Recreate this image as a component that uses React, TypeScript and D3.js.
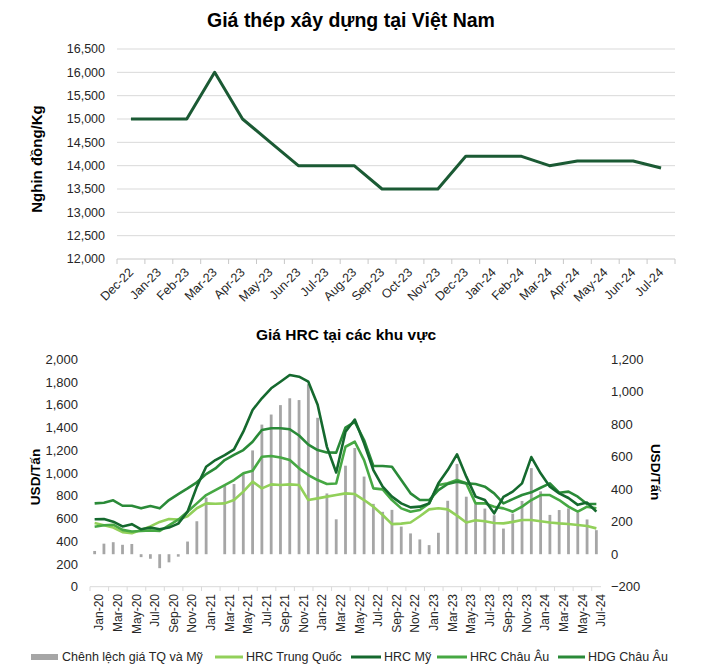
import React from 'react';
import * as d3 from 'd3';

// ---------- Top chart data ----------
const vnMonths = ['Dec-22','Jan-23','Feb-23','Mar-23','Apr-23','May-23','Jun-23','Jul-23','Aug-23','Sep-23','Oct-23','Nov-23','Dec-23','Jan-24','Feb-24','Mar-24','Apr-24','May-24','Jun-24','Jul-24'];
const vnPrice = [15000,15000,15000,16000,15000,14500,14000,14000,14000,13500,13500,13500,14200,14200,14200,14000,14100,14100,14100,13950];
const vnTicks = [12000,12500,13000,13500,14000,14500,15000,15500,16000,16500];

// ---------- Bottom chart data ----------
const hrcMonths = [
  'Jan-20','Feb-20','Mar-20','Apr-20','May-20','Jun-20','Jul-20','Aug-20','Sep-20','Oct-20','Nov-20','Dec-20',
  'Jan-21','Feb-21','Mar-21','Apr-21','May-21','Jun-21','Jul-21','Aug-21','Sep-21','Oct-21','Nov-21','Dec-21',
  'Jan-22','Feb-22','Mar-22','Apr-22','May-22','Jun-22','Jul-22','Aug-22','Sep-22','Oct-22','Nov-22','Dec-22',
  'Jan-23','Feb-23','Mar-23','Apr-23','May-23','Jun-23','Jul-23','Aug-23','Sep-23','Oct-23','Nov-23','Dec-23',
  'Jan-24','Feb-24','Mar-24','Apr-24','May-24','Jun-24','Jul-24'
];
const spreadCNUS: (number | null)[] = [20,65,74,58,63,-18,-28,-86,-50,-15,78,203,349,null,425,432,494,639,798,860,918,960,949,1047,840,374,215,545,654,478,310,261,273,170,128,91,56,132,329,556,354,308,281,240,158,250,328,530,387,242,272,282,256,214,148];
const hrcChina = [560,540,520,480,470,500,530,570,595,590,620,690,733,730,733,762,836,924,865,900,894,900,894,762,777,792,806,821,815,762,704,631,550,555,565,620,680,690,680,625,565,585,575,560,557,570,587,587,575,565,557,551,543,534,513];
const hrcUS = [593,595,572,530,550,505,520,505,520,555,660,880,1055,1114,1158,1208,1363,1554,1657,1745,1803,1862,1847,1803,1600,1230,1005,1363,1470,1261,1026,880,792,733,698,704,733,909,1026,1164,968,792,762,645,790,836,909,1140,997,880,821,780,720,740,660];
const hrcEU = [528,540,545,500,485,490,495,490,540,590,660,733,806,850,894,938,997,1020,1143,1150,1136,1114,1041,982,938,903,908,1231,1275,1114,865,856,762,689,660,675,733,894,909,938,909,733,733,704,689,660,704,762,806,806,762,704,660,704,689];
const hdgEU = [733,739,760,712,712,689,710,689,762,815,865,918,990,1040,1114,1160,1202,1275,1378,1393,1393,1385,1330,1250,1202,1180,1179,1400,1450,1290,1062,1062,1055,938,821,762,762,850,903,924,909,903,880,821,733,770,806,830,870,909,827,836,792,727,727];
const leftTicks = [0,200,400,600,800,1000,1200,1400,1600,1800,2000];
const rightTicks = [-200,0,200,400,600,800,1000,1200];

const seriesNames = ['Chênh lệch giá TQ và Mỹ','HRC Trung Quốc','HRC Mỹ','HRC Châu Âu','HDG Châu Âu'];

const FONT = "'Liberation Sans', Arial, Helvetica, sans-serif";
const C_BAR = '#a6a6a6';
const C_CN = '#92d05a';
const C_US = '#15692e';
const C_EU = '#46a843';
const C_HDG = '#2a8a38';
const C_TOP = '#1b5a34';
const fmt = d3.format(',');

export default function App() {
  // top chart scales
  const xTop = d3.scaleBand<string>().domain(vnMonths).range([117, 675]);
  const yTop = d3.scaleLinear().domain([12000, 16500]).range([259, 49]);
  const cxTop = (m: string) => (xTop(m) as number) + xTop.bandwidth() / 2;
  const topLine = d3.line<number>().x((_, i) => cxTop(vnMonths[i])).y(d => yTop(d))(vnPrice) || '';

  // bottom chart scales
  const xB = d3.scaleBand<string>().domain(hrcMonths).range([90, 601]);
  const yL = d3.scaleLinear().domain([0, 2000]).range([586.7, 359.3]);
  const yR = d3.scaleLinear().domain([-200, 1200]).range([586.7, 359.3]);
  const cxB = (i: number) => (xB(hrcMonths[i]) as number) + xB.bandwidth() / 2;
  const mkLine = (arr: number[]) => d3.line<number>().x((_, i) => cxB(i)).y(d => yL(d))(arr) || '';

  const lines = [
    { data: hrcChina, color: C_CN },
    { data: hrcEU, color: C_EU },
    { data: hdgEU, color: C_HDG },
    { data: hrcUS, color: C_US },
  ];

  const legendItems = [
    { type: 'bar', color: C_BAR, x: 31, w: 27, tx: 62, label: seriesNames[0] },
    { type: 'line', color: C_CN, x: 215, w: 28, tx: 246, label: seriesNames[1] },
    { type: 'line', color: C_US, x: 351, w: 30, tx: 384, label: seriesNames[2] },
    { type: 'line', color: C_EU, x: 437, w: 30, tx: 470, label: seriesNames[3] },
    { type: 'line', color: C_HDG, x: 558, w: 27, tx: 588, label: seriesNames[4] },
  ];

  return (
    <svg width={705} height={669} style={{ position: 'absolute', left: 0, top: 0, background: '#fff' }} fontFamily={FONT}>
      <rect x={0} y={0} width={705} height={669} fill="#fff" />
      {/* ===== Top chart ===== */}
      <text x={351} y={27} textAnchor="middle" fontSize={19.5} fontWeight="bold" fill="#000">Giá thép xây dựng tại Việt Nam</text>
      {vnTicks.map(t => (
        <g key={t}>
          <line x1={117} x2={675} y1={yTop(t)} y2={yTop(t)} stroke={t === 12000 ? '#c8c8c8' : '#d9d9d9'} strokeWidth={1} />
          <text x={105} y={yTop(t)} dy="0.35em" textAnchor="end" fontSize={12.5} fill="#262626">{fmt(t)}</text>
        </g>
      ))}
      {vnMonths.map((m, i) => (
        <line key={'tt' + i} x1={xTop(m) as number} x2={xTop(m) as number} y1={259} y2={264} stroke="#c8c8c8" />
      ))}
      <line x1={675} x2={675} y1={259} y2={264} stroke="#c8c8c8" />
      {vnMonths.map(m => (
        <text key={m} transform={`translate(${cxTop(m)},${270}) rotate(-45)`} dy="0.35em" textAnchor="end" fontSize={12.5} fill="#262626">{m}</text>
      ))}
      <text transform={`translate(42,159) rotate(-90)`} textAnchor="middle" fontSize={15} fontWeight="bold" fill="#000">Nghin đồng/Kg</text>
      <path d={topLine} fill="none" stroke={C_TOP} strokeWidth={3} strokeLinejoin="round" />

      {/* ===== Bottom chart ===== */}
      <text x={346} y={340} textAnchor="middle" fontSize={15.5} fontWeight="bold" fill="#000">Giá HRC tại các khu vực</text>
      {leftTicks.map(t => (
        <text key={'l' + t} x={78} y={yL(t)} dy="0.35em" textAnchor="end" fontSize={13} fill="#262626">{fmt(t)}</text>
      ))}
      {rightTicks.map(t => (
        <text key={'r' + t} x={611} y={yR(t)} dy="0.35em" textAnchor="start" fontSize={13} fill="#262626">{fmt(t)}</text>
      ))}
      <text transform={`translate(40,477) rotate(-90)`} textAnchor="middle" fontSize={13.5} fontWeight="bold" fill="#000">USD/Tấn</text>
      <text transform={`translate(651,472) rotate(90)`} textAnchor="middle" fontSize={13.5} fontWeight="bold" fill="#000">USD/Tấn</text>

      {/* bars on right axis */}
      {spreadCNUS.map((v, i) => v === null ? null : (
        <rect key={'b' + i} x={cxB(i) - 1.4} width={2.8}
          y={Math.min(yR(v), yR(0))} height={Math.abs(yR(v) - yR(0))} fill={C_BAR} />
      ))}
      {/* x axis */}
      <line x1={90} x2={601} y1={586.7} y2={586.7} stroke="#d9d9d9" />
      {hrcMonths.map((m, i) => i % 2 === 0 ? (
        <line key={'bt' + i} x1={xB(m) as number} x2={xB(m) as number} y1={586.7} y2={591} stroke="#d9d9d9" />
      ) : null)}
      {hrcMonths.map((m, i) => i % 2 === 0 ? (
        <text key={'bl' + i} transform={`translate(${(xB(m) as number) + xB.bandwidth()},${594}) rotate(-90)`} dy="0.35em" textAnchor="end" fontSize={12} fill="#262626">{m}</text>
      ) : null)}
      {lines.map((l, k) => (
        <path key={'ln' + k} d={mkLine(l.data)} fill="none" stroke={l.color} strokeWidth={2.6} strokeLinejoin="round" />
      ))}

      {/* legend */}
      {legendItems.map((it, k) => (
        <g key={'lg' + k}>
          {it.type === 'bar'
            ? <rect x={it.x} y={654} width={it.w} height={6} fill={it.color} />
            : <line x1={it.x} x2={it.x + it.w} y1={657} y2={657} stroke={it.color} strokeWidth={3} />}
          <text x={it.tx} y={657} dy="0.35em" fontSize={12.5} fill="#262626">{it.label}</text>
        </g>
      ))}
    </svg>
  );
}
